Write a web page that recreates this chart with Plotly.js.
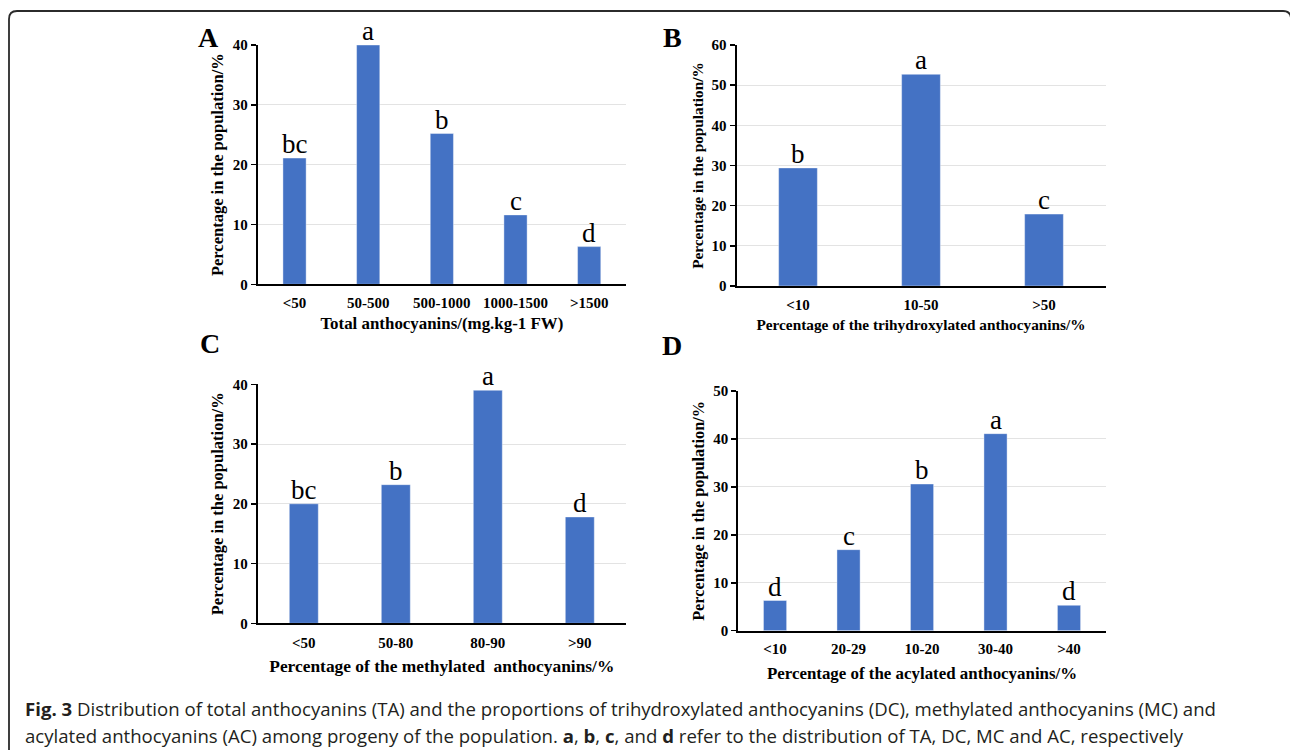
<!DOCTYPE html>
<html>
<head>
<meta charset="utf-8">
<script src="https://cdn.plot.ly/plotly-3.0.1.min.js"></script>
<style>html,body{margin:0;padding:0;background:#fff;}#chart{width:1290px;height:750px;}</style>
</head>
<body>
<div id="chart"></div>
<script>
// ---- Data ----
const catsA = ['<50', '50-500', '500-1000', '1000-1500', '>1500'];
const valsA = [21.1, 40.0, 25.2, 11.6, 6.3];
const lettersA = ['bc', 'a', 'b', 'c', 'd'];

const catsB = ['<10', '10-50', '>50'];
const valsB = [29.4, 52.7, 17.9];
const lettersB = ['b', 'a', 'c'];

const catsC = ['<50', '50-80', '80-90', '>90'];
const valsC = [20.0, 23.2, 39.0, 17.8];
const lettersC = ['bc', 'b', 'a', 'd'];

const catsD = ['<10', '20-29', '10-20', '30-40', '>40'];
const valsD = [6.3, 16.9, 30.6, 41.1, 5.3];
const lettersD = ['d', 'c', 'b', 'a', 'd'];

const xTitles = [
  'Total anthocyanins/(mg.kg-1 FW)',
  'Percentage of the trihydroxylated anthocyanins/%',
  'Percentage of the methylated\u00a0 anthocyanins/%',
  'Percentage of the acylated anthocyanins/%'
];
const yTitle = 'Percentage in the population/%';
const panelLabels = ['A', 'B', 'C', 'D'];

// ---- Layout helpers ----
const W = 1290, H = 750;
const px = x => x / W;
const py = y => 1 - y / H;
const SERIF = 'Liberation Serif, Times New Roman, serif';
const BAR = '#4472C4';

function barTrace(cats, vals, n) {
  const s = n === 1 ? '' : String(n);
  return {
    type: 'bar', x: cats, y: vals,
    xaxis: 'x' + s, yaxis: 'y' + s,
    marker: {color: BAR, line: {color: 'rgba(255,255,255,0.5)', width: 0.8}},
    hoverinfo: 'none', showlegend: false
  };
}

function letterAnns(cats, vals, letters, n) {
  const s = n === 1 ? '' : String(n);
  return cats.map((c, i) => ({
    xref: 'x' + s, yref: 'y' + s, x: c, y: vals[i],
    xanchor: 'center', yanchor: 'bottom', yshift: -3, showarrow: false,
    text: letters[i], font: {family: SERIF, size: 27, color: '#000'}
  }));
}

function xAxis(domain, anchor, title, tfs, standoff, labelStandoff) {
  return {
    domain: domain, anchor: anchor, type: 'category',
    showline: true, linecolor: '#000', linewidth: 2,
    showgrid: false, zeroline: false, ticks: '',
    ticklabelstandoff: labelStandoff,
    tickfont: {family: SERIF, size: 15, color: '#000', weight: 'bold'},
    title: {text: title, standoff: standoff, font: {family: SERIF, size: tfs, color: '#000', weight: 'bold'}},
    fixedrange: true
  };
}
function yAxis(domain, anchor, max, tfs, standoff) {
  return {
    domain: domain, anchor: anchor, range: [0, max], dtick: 10,
    showline: true, linecolor: '#000', linewidth: 2,
    showgrid: true, gridcolor: '#e3e3e3', gridwidth: 1, zeroline: false,
    ticks: 'outside', ticklen: 5, tickwidth: 1.5, tickcolor: '#000',
    tickfont: {family: SERIF, size: 15, color: '#000', weight: 'bold'},
    title: {text: yTitle, standoff: standoff, font: {family: SERIF, size: tfs, color: '#000', weight: 'bold'}},
    fixedrange: true
  };
}

const data = [
  barTrace(catsA, valsA, 1),
  barTrace(catsB, valsB, 2),
  barTrace(catsC, valsC, 3),
  barTrace(catsD, valsD, 4)
];

const panelPos = [[196, 51], [661, 51], [198, 357], [660, 359]];
let annotations = panelLabels.map((l, i) => ({
  xref: 'paper', yref: 'paper', x: px(panelPos[i][0]), y: py(panelPos[i][1] + 4),
  xanchor: 'left', yanchor: 'bottom', showarrow: false,
  text: '<b>' + l + '</b>', font: {family: SERIF, size: 28, color: '#000'}
}));
annotations = annotations.concat(
  letterAnns(catsA, valsA, lettersA, 1),
  letterAnns(catsB, valsB, lettersB, 2),
  letterAnns(catsC, valsC, lettersC, 3),
  letterAnns(catsD, valsD, lettersD, 4)
);

const capFont = {family: 'Open Sans, sans-serif', size: 18.6, color: '#231f20'};
annotations.push({
  xref: 'paper', yref: 'paper', x: px(23), y: py(708), xanchor: 'left', yanchor: 'middle',
  showarrow: false, font: capFont,
  text: '<b>Fig. 3</b> Distribution of total anthocyanins (TA) and the proportions of trihydroxylated anthocyanins (DC), methylated anthocyanins (MC) and'
});
annotations.push({
  xref: 'paper', yref: 'paper', x: px(23), y: py(735), xanchor: 'left', yanchor: 'middle',
  showarrow: false, font: capFont,
  text: 'acylated anthocyanins (AC) among progeny of the population. <b>a</b>, <b>b</b>, <b>c</b>, and <b>d</b> refer to the distribution of TA, DC, MC and AC, respectively'
});

const borderPath = 'M ' + px(9) + ',' + py(752) + ' L ' + px(9) + ',' + py(19) +
  ' Q ' + px(9) + ',' + py(11) + ' ' + px(17) + ',' + py(11) +
  ' L ' + px(1283) + ',' + py(11) +
  ' Q ' + px(1291) + ',' + py(11) + ' ' + px(1291) + ',' + py(19) +
  ' L ' + px(1291) + ',' + py(752);

const layout = {
  width: W, height: H,
  margin: {l: 0, r: 0, t: 0, b: 0, pad: 0},
  paper_bgcolor: '#fff', plot_bgcolor: 'rgba(0,0,0,0)',
  bargap: 0.685, showlegend: false,
  xaxis: xAxis([px(257.7), px(626)], 'y', xTitles[0], 16.9, 7, 4),
  yaxis: yAxis([py(284.3), py(45)], 'x', 40, 16.5, 5),
  xaxis2: xAxis([px(736.5), px(1105.5)], 'y2', xTitles[1], 15.3, 7, 4),
  yaxis2: yAxis([py(286), py(45)], 'x2', 60, 15.3, 4),
  xaxis3: xAxis([px(257.8), px(625.8)], 'y3', xTitles[2], 17.4, 10, 5),
  yaxis3: yAxis([py(623.3), py(384.3)], 'x3', 40, 16.5, 5),
  xaxis4: xAxis([px(738.3), px(1105.75)], 'y4', xTitles[3], 16.9, 11, 3),
  yaxis4: yAxis([py(630.7), py(391)], 'x4', 50, 16.3, 5),
  annotations: annotations,
  shapes: [{type: 'path', xref: 'paper', yref: 'paper', path: borderPath,
    line: {color: '#2b2b2b', width: 1.8}}]
};

Plotly.newPlot('chart', data, layout, {staticPlot: true, displayModeBar: false});
</script>
</body>
</html>
